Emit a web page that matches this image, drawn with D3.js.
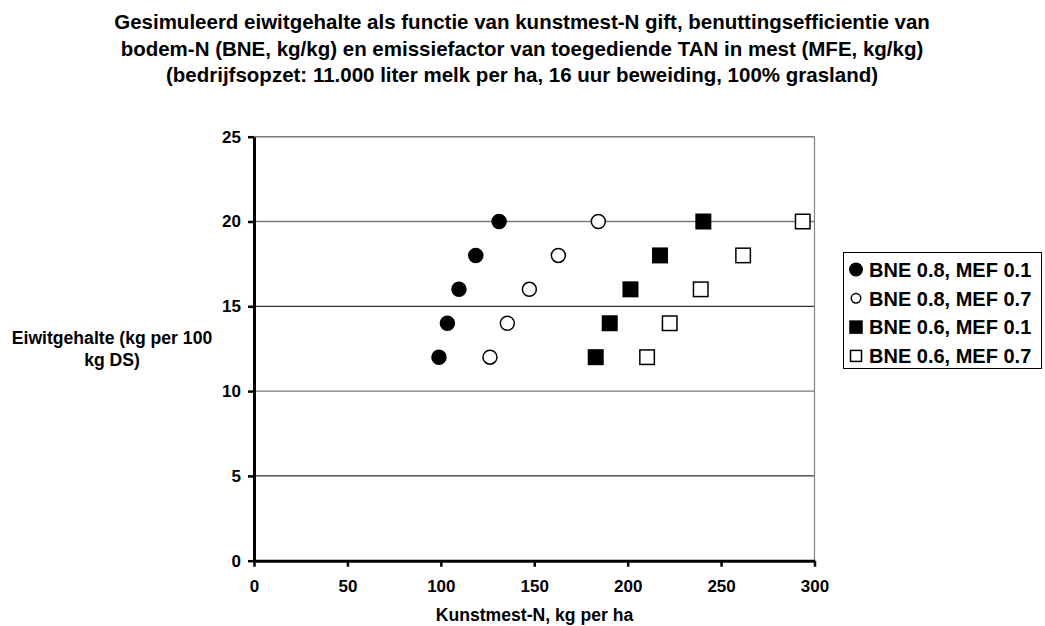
<!DOCTYPE html>
<html>
<head>
<meta charset="utf-8">
<script src="https://cdn.jsdelivr.net/npm/d3@7"></script>
<style>
  html, body { margin: 0; padding: 0; background: #fff; }
  svg { display: block; font-family: "Liberation Sans", Arial, sans-serif; font-weight: bold; }
</style>
</head>
<body>
<svg id="chart" width="1045" height="626"></svg>
<script>
// ---- data ----
const titleLines = [
  "Gesimuleerd eiwitgehalte als functie van kunstmest-N gift, benuttingsefficientie van",
  "bodem-N (BNE, kg/kg) en emissiefactor van toegediende TAN in mest (MFE, kg/kg)",
  "(bedrijfsopzet: 11.000 liter melk per ha, 16 uur beweiding, 100% grasland)"
];
const xTitle = "Kunstmest-N, kg per ha";
const yTitleLines = ["Eiwitgehalte (kg per 100", "kg DS)"];
const xTicks = [0, 50, 100, 150, 200, 250, 300];
const yTicks = [0, 5, 10, 15, 20, 25];
const proteinLevels = [12, 14, 16, 18, 20];
const seriesNames = ["BNE 0.8, MEF 0.1", "BNE 0.8, MEF 0.7", "BNE 0.6, MEF 0.1", "BNE 0.6, MEF 0.7"];
const bne08mef01 = [99, 103.5, 109.7, 118.7, 131.2];
const bne08mef07 = [126.3, 135.6, 147.4, 162.9, 184.3];
const bne06mef01 = [182.9, 190.4, 201.5, 217.3, 240.5];
const bne06mef07 = [210.4, 222.5, 239.1, 261.8, 293.7];
const seriesShapes = ["circle", "circle", "square", "square"];
const seriesFilled = [true, false, true, false];

const seriesX = [bne08mef01, bne08mef07, bne06mef01, bne06mef07];
const series = seriesNames.map((name, i) => ({
  name, shape: seriesShapes[i], filled: seriesFilled[i],
  points: proteinLevels.map((yv, j) => ({ x: seriesX[i][j], y: yv }))
}));

// ---- layout ----
const svg = d3.select("#chart");
const plotLeft = 254, plotRight = 814.5, plotTop = 136.7, plotBottom = 560.7;
const x = d3.scaleLinear().domain([0, 300]).range([plotLeft, plotRight]);
const y = d3.scaleLinear().domain([0, 25]).range([plotBottom, plotTop]);

// title
svg.append("g").selectAll("text").data(titleLines).join("text")
  .attr("x", 522).attr("y", (d, i) => 29 + i * 26.5)
  .attr("text-anchor", "middle").style("font-size", "20.5px").text(d => d);

// gridlines (antialiased look of original: some appear grey, some black)
svg.append("g").selectAll("line").data(yTicks.filter(v => v > 0)).join("line")
  .attr("x1", plotLeft).attr("x2", plotRight)
  .attr("y1", d => y(d)).attr("y2", d => y(d))
  .attr("stroke", d => (d === 25 || d === 20 || d === 10) ? "#7a7a7a" : "#000")
  .attr("stroke-width", d => (d === 25 || d === 20 || d === 10) ? 1.4 : 1);
// right border
svg.append("line").attr("x1", plotRight).attr("x2", plotRight)
  .attr("y1", y(25)).attr("y2", y(0)).attr("stroke", "#808080").attr("stroke-width", 1.2);

// axes
const xAxis = d3.axisBottom(x).tickValues(xTicks).tickSize(6).tickPadding(13).tickSizeOuter(0);
const gx = svg.append("g").attr("transform", `translate(0,${plotBottom})`).call(xAxis);
gx.select(".domain").attr("stroke", "#000").attr("stroke-width", 3);
gx.selectAll(".tick line").attr("stroke", "#000").attr("stroke-width", 2.5);
gx.selectAll(".tick text").style("font-size", "17px").style("font-family", "Liberation Sans, Arial, sans-serif").style("font-weight", "bold").attr("fill", "#000");

const yAxis = d3.axisLeft(y).tickValues(yTicks).tickSize(6).tickPadding(7).tickSizeOuter(0);
const gy = svg.append("g").attr("transform", `translate(${plotLeft},0)`).call(yAxis);
gy.select(".domain").attr("stroke", "#000").attr("stroke-width", 3);
gy.selectAll(".tick line").attr("stroke", "#000").attr("stroke-width", 2.5);
gy.selectAll(".tick text").style("font-size", "17px").style("font-family", "Liberation Sans, Arial, sans-serif").style("font-weight", "bold").attr("fill", "#000");

// axis titles
svg.append("text").attr("x", 534.5).attr("y", 621).attr("text-anchor", "middle")
  .style("font-size", "17.6px").text(xTitle);
svg.append("g").selectAll("text").data(yTitleLines).join("text")
  .attr("x", 112).attr("y", (d, i) => 344 + i * 22).attr("text-anchor", "middle")
  .style("font-size", "17.6px").text(d => d);

// markers
function drawMarker(g, shape, filled, size) {
  if (shape === "circle") {
    g.append("circle").attr("r", size / 2)
      .attr("fill", filled ? "#000" : "#fff").attr("stroke", "#000").attr("stroke-width", 1.5);
  } else {
    g.append("rect").attr("x", -size / 2).attr("y", -size / 2).attr("width", size).attr("height", size)
      .attr("fill", filled ? "#000" : "#fff").attr("stroke", "#000").attr("stroke-width", 1.5);
  }
}
const plot = svg.append("g");
series.forEach(s => {
  s.points.forEach(p => {
    const g = plot.append("g").attr("transform", `translate(${x(p.x)},${y(p.y)})`);
    drawMarker(g, s.shape, s.filled, s.shape === "circle" ? 14 : 14.5);
  });
});

// legend
const lg = svg.append("g");
lg.append("rect").attr("x", 843.5).attr("y", 252.5).attr("width", 198).attr("height", 116)
  .attr("fill", "#fff").attr("stroke", "#000").attr("stroke-width", 1);
const legendSizes = [12.5, 9.5, 12, 11];
series.forEach((s, i) => {
  const cy = 269.5 + i * 28.8;
  const g = lg.append("g").attr("transform", `translate(856,${cy})`);
  drawMarker(g, s.shape, s.filled, legendSizes[i]);
  lg.append("text").attr("x", 869).attr("y", cy).attr("dy", "0.36em")
    .style("font-size", "20px").text(s.name);
});
</script>
</body>
</html>
